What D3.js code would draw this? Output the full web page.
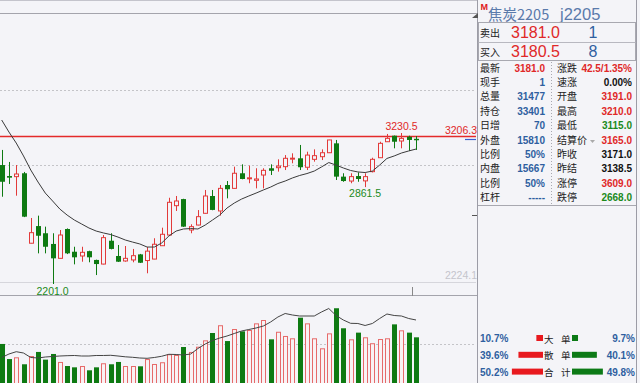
<!DOCTYPE html>
<html><head><meta charset="utf-8">
<script src="https://cdn.jsdelivr.net/npm/d3@7/dist/d3.min.js"></script>
<style>html,body{margin:0;padding:0;background:#f4f4f8;overflow:hidden}</style>
</head><body><svg id="c" width="640" height="383"></svg>
<script>
// ---- data ----
const open  = [3012,2937,2933,2956,2479,2596,2547,2474,2376,2576,2421,2392,2425,2365,2337,2496,2392,2358,2365,2403,2361,2371,2462,2535,2735,2780,2569,2603,2683,2801,2699,2876,2853,2956,2922,2908,2944,2990,2994,3001,3057,3058,2997,3051,3069,3096,3160,2933,2903,2937,2904,2967,3062,3171,3212,3176,3205,3191];
const high  = [3115,3033,3012,2965,2651,2667,2592,2547,2569,2580,2455,2455,2428,2367,2535,2547,2467,2460,2440,2406,2453,2513,2585,2789,2801,2782,2608,2705,2842,2842,2876,2903,3001,3017,3008,2990,2990,3017,3051,3080,3092,3149,3103,3119,3119,3184,3183,2956,2956,2962,2956,3062,3171,3224,3213,3230.5,3212,3210];
const low   = [2796,2883,2803,2657,2478,2410,2410,2201,2375,2405,2335,2353,2349,2262,2335,2437,2351,2353,2349,2344,2274,2370,2461,2533,2699,2590,2547,2601,2681,2704,2667,2785,2852,2915,2888,2853,2853,2944,2967,2978,3024,2978,2978,3035,3046,3094,2910,2898,2888,2898,2861.5,2962,3060,3170,3126,3126,3108,3115];
const close = [2898,2926,2951,2660,2551,2530,2455,2376,2535,2410,2383,2417,2383,2337,2517,2440,2353,2376,2394,2346,2425,2472,2540,2758,2767,2592,2592,2660,2801,2706,2853,2847,2956,2917,2925,2917,2976,2973,3005,3058,3059,2997,3080,3076,3096,3183,2933,2903,2933,2917,2933,3051,3160,3194,3171,3194,3183,3181];
const maLine = [3319,3237,3162,3074,2978,2896,2821,2767,2712,2671,2637,2610,2583,2562,2549,2538,2521,2501,2487,2474,2453,2453,2480,2528,2562,2576,2579,2576,2603,2637,2671,2719,2753,2780,2801,2821,2842,2862,2886,2903,2924,2941,2954,2971,2999,3029,3012,2992,2975,2965,2961,2971,3012,3057,3074,3094,3108,3121];
const volume = [26900,16500,17700,12900,18600,21400,16100,20000,14500,11700,10800,11700,8750,10800,13600,12900,14500,11700,11700,11500,16500,13100,14300,19800,19300,24800,21400,25000,29400,34450,39800,28900,37200,35600,36500,41100,43400,30100,35300,32400,30800,45000,41100,30800,23900,34200,51500,37700,30100,34700,31500,27400,30300,30800,40400,36300,34700,31477];
const oiLine = [17570,19980,21570,20670,17570,17230,17910,18260,18600,18810,18950,18600,18600,18950,18950,19090,18600,18050,17710,17230,17020,17570,18400,19770,19640,19290,19980,23770,26870,29280,31000,32380,34110,35830,36860,37900,39270,42030,45470,47890,46850,46160,46160,46160,48920,51330,46510,43410,41130,41000,39620,41000,44440,47540,46510,46160,44440,43410];
const priceGrid = [3524, 3012];
const volGrid = [26900];
const refPrice = 3206.3;       // red reference line
const floorPrice = 2224.1;
const lastPrice = 3181.0, limitDown = 2668.0;

const title = ["焦炭2205", "j2205"];
const askRow = ["卖出", "3181.0", "1"];
const bidRow = ["买入", "3180.5", "8"];
const leftLabels  = ["最新","现手","总量","持仓","日增","外盘","比例","内盘","比例","杠杆"];
const leftValues  = ["3181.0","1","31477","33401","70","15810","50%","15667","50%","-----"];
const rightLabels = ["涨跌","速涨","开盘","最高","最低","结算价","昨收","昨结","涨停","跌停"];
const rightValues = ["42.5/1.35%","0.00%","3191.0","3210.0","3115.0","3165.0","3171.0","3138.5","3609.0","2668.0"];
const flowLabels = [["大","单"],["散","单"],["合","计"]];
const buyPct  = [10.7, 39.6, 50.2];
const sellPct = [9.7, 40.1, 49.8];

// ---- styles ----
const BG = "#f4f4f8", RED = "#e23a3a", GREEN = "#0e7a12", VRED = "#e66a6a";
const BLUE = "#2f5fa0", TXTRED = "#e02828", TXTGREEN = "#1b8a1b";
const NUM = "'Liberation Sans Narrow','Arial Narrow','Liberation Sans',Arial,sans-serif";
const CJK = "'Noto Sans CJK SC','Noto Sans',sans-serif";
const leftColors  = [TXTRED,BLUE,BLUE,BLUE,BLUE,BLUE,BLUE,BLUE,BLUE,BLUE];
const rightColors = [TXTRED,"#111",TXTRED,TXTRED,TXTGREEN,TXTRED,"#111","#111",TXTRED,TXTGREEN];

const svg = d3.select("#c");
svg.append("rect").attr("width",640).attr("height",383).attr("fill",BG);

const N = open.length;
const x = d3.scaleLinear().domain([0, N-1]).range([1.7, 416]);
const y = d3.scaleLinear().domain([2201, 3230.5]).range([284, 133]);
const v = d3.scaleLinear().domain([0, 59943]).range([383, 296]);
const CW = 5;

// frame lines
svg.append("line").attr("x1",0).attr("x2",478).attr("y1",0.5).attr("y2",0.5).attr("stroke","#c4c4cc");
svg.append("line").attr("x1",0).attr("x2",478).attr("y1",13.5).attr("y2",13.5).attr("stroke","#a4a4ac");
svg.append("line").attr("x1",0).attr("x2",478).attr("y1",295.5).attr("y2",295.5).attr("stroke","#a4a4ac");

// clips
const defs = svg.append("defs");
defs.append("clipPath").attr("id","mainClip").append("rect").attr("x",0).attr("y",14).attr("width",476).attr("height",281);
defs.append("clipPath").attr("id","volClip").append("rect").attr("x",0).attr("y",296).attr("width",476).attr("height",87);

const main = svg.append("g").attr("clip-path","url(#mainClip)");
const vol = svg.append("g").attr("clip-path","url(#volClip)");

// grid
main.selectAll("line.g").data(priceGrid).join("line")
  .attr("x1",0).attr("x2",476).attr("y1",d=>Math.round(y(d))+0.5).attr("y2",d=>Math.round(y(d))+0.5)
  .attr("stroke","#c4c4c8").attr("stroke-dasharray","2,2");
main.append("line").attr("x1",0).attr("x2",476).attr("y1",Math.round(y(floorPrice))+1.5).attr("y2",Math.round(y(floorPrice))+1.5)
  .attr("stroke","#d6d6dc");
vol.selectAll("line.g").data(volGrid).join("line")
  .attr("x1",0).attr("x2",476).attr("y1",d=>Math.round(v(d))+0.5).attr("y2",d=>Math.round(v(d))+0.5)
  .attr("stroke","#c4c4c8").attr("stroke-dasharray","2,2");

// reference line
main.append("line").attr("x1",0).attr("x2",477).attr("y1",y(refPrice)).attr("y2",y(refPrice))
  .attr("stroke","#e42a2a").attr("stroke-width",1.5);

// candles
const idx = d3.range(N);
const up = i => close[i] >= open[i];
const cg = main.selectAll("g.c").data(idx).join("g");
cg.append("line").attr("x1",i=>Math.round(x(i))+0.5).attr("x2",i=>Math.round(x(i))+0.5)
  .attr("y1",i=>y(high[i])).attr("y2",i=>y(low[i]))
  .attr("stroke",i=>up(i)?RED:GREEN);
cg.append("rect")
  .attr("x",i=>Math.round(x(i))-2+(up(i)?0.5:0))
  .attr("width",i=>up(i)?CW-1:CW)
  .attr("y",i=>y(Math.max(open[i],close[i])))
  .attr("height",i=>Math.max(1,Math.abs(y(open[i])-y(close[i]))))
  .attr("fill",i=>up(i)?BG:GREEN)
  .attr("stroke",i=>up(i)?RED:"none");

// MA line
main.append("path").datum(idx)
  .attr("d", d3.line().x(i=>x(i)).y(i=>y(maLine[i])))
  .attr("fill","none").attr("stroke","#3a3a3a").attr("stroke-width",1);

// volume
vol.selectAll("rect.v").data(idx).join("rect")
  .attr("x",i=>Math.round(x(i))-2+(up(i)?0.5:0))
  .attr("width",i=>up(i)?CW-1:CW)
  .attr("y",i=>v(volume[i])+(up(i)?0.5:0))
  .attr("height",i=>v(0)-v(volume[i])+2)
  .attr("fill",i=>up(i)?"#f9f2f4":GREEN)
  .attr("stroke",i=>up(i)?VRED:"none");
vol.append("path").datum(idx)
  .attr("d", d3.line().x(i=>x(i)).y(i=>v(oiLine[i])))
  .attr("fill","none").attr("stroke","#444").attr("stroke-width",1);

// extreme labels
const hiIdx = d3.maxIndex(high), loIdx = d3.minIndex(low);
let secondLo = -1;
{ let best = Infinity; for (let i=40;i<N;i++){ if (low[i]<best){best=low[i];secondLo=i;} } }
function lab(t,xx,yy,col,anchor,size){
  return svg.append("text").attr("x",xx).attr("y",yy).attr("fill",col).attr("font-family",NUM)
    .attr("font-size",size||10.5).attr("text-anchor",anchor||"middle").text(t);
}
lab(d3.format(".1f")(high[hiIdx]), x(hiIdx), y(high[hiIdx])-3, TXTRED);
lab(d3.format(".1f")(low[loIdx]), x(loIdx), 295, TXTGREEN);
lab(d3.format(".1f")(low[secondLo]), x(secondLo), y(low[secondLo])+9.5, TXTGREEN);
lab(d3.format(".1f")(refPrice), 477, y(refPrice)-2.5, TXTRED, "end");
lab(d3.format(".1f")(floorPrice), 477, y(floorPrice)-1.5, "#c4c4cc", "end");

// small axis marks
svg.append("line").attr("x1",465).attr("x2",476).attr("y1",Math.round(y(lastPrice))-0.5).attr("y2",Math.round(y(lastPrice))-0.5).attr("stroke","#3a5fcf").attr("stroke-width",1.2);
svg.append("line").attr("x1",472).attr("x2",477).attr("y1",Math.round(y(limitDown))-0.5).attr("y2",Math.round(y(limitDown))-0.5).attr("stroke","#555");
svg.append("line").attr("x1",Math.round(x(56.5))+0.5).attr("x2",Math.round(x(56.5))+0.5).attr("y1",287).attr("y2",296).attr("stroke","#888");

// ---- right panel ----
const P = svg.append("g");
P.append("rect").attr("x",477.5).attr("y",-1).attr("width",159).attr("height",390).attr("fill",BG).attr("stroke","#9c9ca6");
P.append("path").attr("d","M472,18 L478,13 L478,18 Z").attr("fill","#555");
P.append("text").attr("x",480.5).attr("y",10).attr("fill","#e01818").attr("font-family",NUM).attr("font-weight","bold").attr("font-size",9).text("M");
P.append("text").attr("x",488).attr("y",19.5).attr("fill","#5a7aab").attr("font-family",CJK).attr("font-size",14.5).text(title[0]);
P.append("text").attr("x",560).attr("y",19.5).attr("fill","#5a7aab").attr("font-family",NUM).attr("font-size",16.5).text(title[1]);

// ask/bid boxes
P.append("rect").attr("x",478.5).attr("y",22.5).attr("width",157).attr("height",38).attr("fill","none").attr("stroke","#a8a8b0");
P.append("line").attr("x1",478.5).attr("x2",635.5).attr("y1",42.5).attr("y2",42.5).attr("stroke","#b8b8c0");
[askRow,bidRow].forEach((r,k)=>{
  const by = 38 + k*19;
  P.append("text").attr("x",480).attr("y",by-1.5).attr("fill","#222").attr("font-family",CJK).attr("font-size",10).text(r[0]);
  P.append("text").attr("x",511).attr("y",by).attr("fill",TXTRED).attr("font-family",NUM).attr("font-size",16).text(r[1]);
  P.append("text").attr("x",593).attr("y",by).attr("fill",BLUE).attr("font-family",NUM).attr("font-size",16).attr("text-anchor","middle").text(r[2]);
});

// stats table
const rowY = i => 71.5 + i*14.4;
leftLabels.forEach((t,i)=>{
  P.append("text").attr("x",480).attr("y",rowY(i)).attr("fill","#222").attr("font-family",CJK).attr("font-size",10).text(t);
  P.append("text").attr("x",545).attr("y",rowY(i)).attr("fill",leftColors[i]).attr("font-family",NUM).attr("font-weight","bold").attr("font-size",10).attr("text-anchor","end").text(leftValues[i]);
});
rightLabels.forEach((t,i)=>{
  P.append("text").attr("x",557).attr("y",rowY(i)).attr("fill","#222").attr("font-family",CJK).attr("font-size",10).text(t);
  P.append("text").attr("x",632).attr("y",rowY(i)).attr("fill",rightColors[i]).attr("font-family",NUM).attr("font-weight","bold").attr("font-size",10).attr("text-anchor","end").text(rightValues[i]);
});
P.append("path").attr("d",`M${557+33},${rowY(5)-3.5} l2.5,3 l2.5,-3 Z`).attr("fill","#aaa");
P.append("line").attr("x1",551.5).attr("x2",551.5).attr("y1",62).attr("y2",205).attr("stroke","#a8a8b0").attr("stroke-dasharray","1,2");
P.append("line").attr("x1",478).attr("x2",636).attr("y1",205.5).attr("y2",205.5).attr("stroke","#a8a8b0");

// order-flow section
const w = d3.scaleLinear().domain([0,100]).range([0,62]);
flowLabels.forEach((lb,i)=>{
  const by = 342 + i*16.8;
  P.append("text").attr("x",480).attr("y",by).attr("fill",BLUE).attr("font-family",NUM).attr("font-weight","bold").attr("font-size",10).text(d3.format(".1f")(buyPct[i])+"%");
  P.append("text").attr("x",635).attr("y",by).attr("fill",BLUE).attr("font-family",NUM).attr("font-weight","bold").attr("font-size",10).attr("text-anchor","end").text(d3.format(".1f")(sellPct[i])+"%");
  P.append("rect").attr("x",543-w(buyPct[i])).attr("y",by-7).attr("width",w(buyPct[i])).attr("height",6).attr("fill","#e8191e");
  P.append("rect").attr("x",572).attr("y",by-7).attr("width",w(sellPct[i])).attr("height",6).attr("fill","#0c7a16");
  P.append("text").attr("x",544).attr("y",by+0.5).attr("fill","#222").attr("font-family",CJK).attr("font-size",9.5).text(lb[0]);
  P.append("text").attr("x",561).attr("y",by+0.5).attr("fill","#222").attr("font-family",CJK).attr("font-size",9.5).text(lb[1]);
});
</script></body></html>
